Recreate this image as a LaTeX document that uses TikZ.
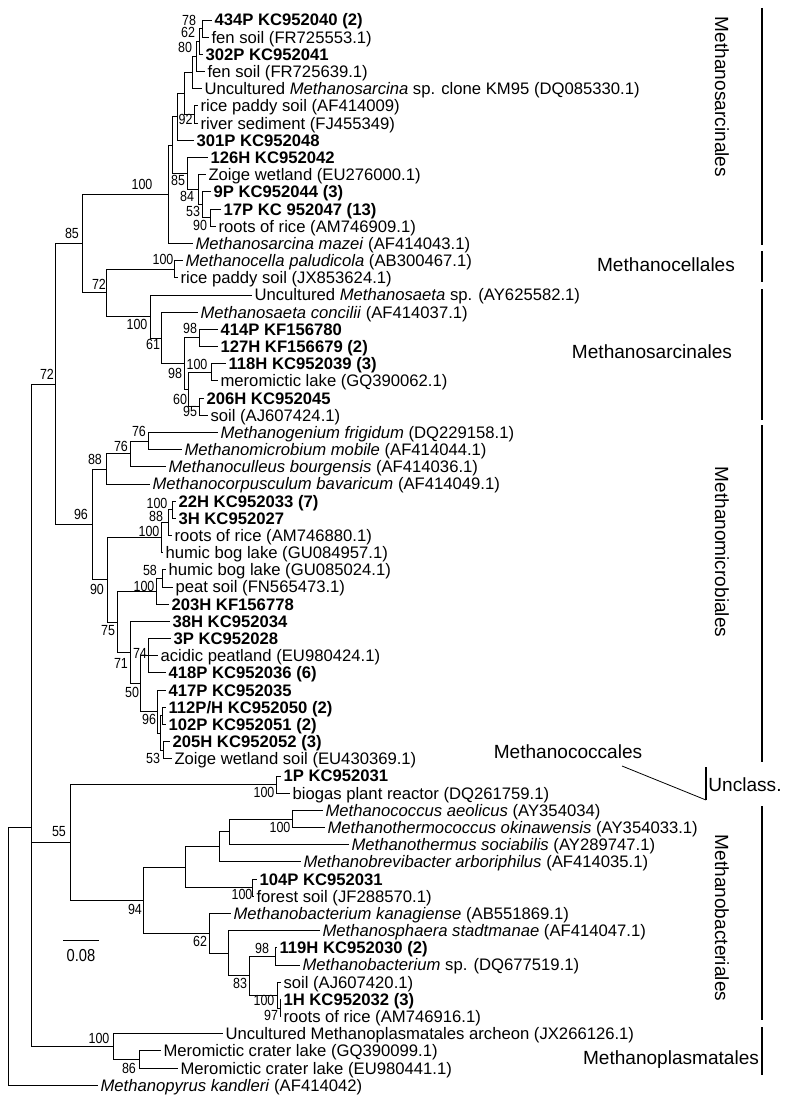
\documentclass[tikz,border=0pt]{standalone}
\usepackage{fontspec}
\setmainfont{Liberation Sans}
\newfontfamily\narfont[FakeStretch=0.85]{Liberation Sans}
\begin{document}
\begin{tikzpicture}[x=0.75pt,y=-0.75pt,line width=0.6pt,
  leaf/.style={anchor=base west,inner sep=0pt,xshift=1.6pt,yshift=-4.5pt,font=\fontsize{12.5}{14}\selectfont},
  boot/.style={anchor=center,inner sep=0pt,font=\narfont\fontsize{11}{12}\selectfont},
  clade/.style={inner sep=0pt,font=\fontsize{14.3}{16}\selectfont},
  bar/.style={line width=0.8pt}]
\useasboundingbox (0,0) rectangle (797,1102);
\newcommand\lv[4]{\coordinate (#1) at (#2,#3); \node[leaf] (#1t) at (#1) {#4};}
\newcommand\bs[4]{\node[boot] (#1) at (#2,#3) {#4};}
% ---------------- leaves
\lv{L1}{212}{20.0}{\bfseries 434P KC952040 (2)}
\lv{L2}{209}{37.2}{fen soil (FR725553.1)}
\lv{L3}{203}{54.4}{\bfseries 302P KC952041}
\lv{L4}{205}{71.5}{fen soil (FR725639.1)}
\lv{L5}{202}{88.7}{Uncultured \textit{Methanosarcina} sp. clone KM95 (DQ085330.1)}
\lv{L6}{198}{105.9}{rice paddy soil (AF414009)}
\lv{L7}{198}{123.1}{river sediment (FJ455349)}
\lv{L8}{194}{140.3}{\bfseries 301P KC952048}
\lv{L9}{208}{157.4}{\bfseries 126H KC952042}
\lv{L10}{206}{174.6}{Zoige wetland (EU276000.1)}
\lv{L11}{211}{191.8}{\bfseries 9P KC952044 (3)}
\lv{L12}{221}{209.0}{\bfseries 17P KC 952047 (13)}
\lv{L13}{216}{226.2}{roots of rice (AM746909.1)}
\lv{L14}{193}{243.3}{\textit{Methanosarcina mazei} (AF414043.1)}
\lv{L15}{183}{260.5}{\textit{Methanocella paludicola} (AB300467.1)}
\lv{L16}{178}{277.7}{rice paddy soil (JX853624.1)}
\lv{L17}{252}{294.9}{Uncultured \textit{Methanosaeta} sp. (AY625582.1)}
\lv{L18}{198}{312.1}{\textit{Methanosaeta concilii} (AF414037.1)}
\lv{L19}{218}{329.2}{\bfseries 414P KF156780}
\lv{L20}{218}{346.4}{\bfseries 127H KF156679 (2)}
\lv{L21}{226}{363.6}{\bfseries 118H KC952039 (3)}
\lv{L22}{218}{380.8}{meromictic lake (GQ390062.1)}
\lv{L23}{204}{398.0}{\bfseries 206H KC952045}
\lv{L24}{208}{415.1}{soil (AJ607424.1)}
\lv{L25}{218}{432.3}{\textit{Methanogenium frigidum} (DQ229158.1)}
\lv{L26}{182}{449.5}{\textit{Methanomicrobium mobile} (AF414044.1)}
\lv{L27}{166}{466.7}{\textit{Methanoculleus bourgensis} (AF414036.1)}
\lv{L28}{150}{483.9}{\textit{Methanocorpusculum bavaricum} (AF414049.1)}
\lv{L29}{176}{501.0}{\bfseries 22H KC952033 (7)}
\lv{L30}{176}{518.2}{\bfseries 3H KC952027}
\lv{L31}{172}{535.4}{roots of rice (AM746880.1)}
\lv{L32}{163}{552.6}{humic bog lake (GU084957.1)}
\lv{L33}{166}{569.8}{humic bog lake (GU085024.1)}
\lv{L34}{173}{586.9}{peat soil (FN565473.1)}
\lv{L35}{169}{604.1}{\bfseries 203H KF156778}
\lv{L36}{170}{621.3}{\bfseries 38H KC952034}
\lv{L37}{171}{638.5}{\bfseries 3P KC952028}
\lv{L38}{158}{655.7}{acidic peatland (EU980424.1)}
\lv{L39}{166}{672.8}{\bfseries 418P KC952036 (6)}
\lv{L40}{166}{690.0}{\bfseries 417P KC952035}
\lv{L41}{166}{707.2}{\bfseries 112P/H KC952050 (2)}
\lv{L42}{166}{724.4}{\bfseries 102P KC952051 (2)}
\lv{L43}{170}{741.6}{\bfseries 205H KC952052 (3)}
\lv{L44}{172}{758.7}{Zoige wetland soil (EU430369.1)}
\lv{L45}{281}{775.9}{\bfseries 1P KC952031}
\lv{L46}{290}{793.1}{biogas plant reactor (DQ261759.1)}
\lv{L47}{323}{810.3}{\textit{Methanococcus aeolicus} (AY354034)}
\lv{L48}{325}{827.5}{\textit{Methanothermococcus okinawensis} (AY354033.1)}
\lv{L49}{349}{844.6}{\textit{Methanothermus sociabilis} (AY289747.1)}
\lv{L50}{301}{861.8}{\textit{Methanobrevibacter arboriphilus} (AF414035.1)}
\lv{L51}{257}{879.0}{\bfseries 104P KC952031}
\lv{L52}{254}{896.2}{forest soil (JF288570.1)}
\lv{L53}{231}{913.4}{\textit{Methanobacterium kanagiense} (AB551869.1)}
\lv{L54}{320}{930.5}{\textit{Methanosphaera stadtmanae} (AF414047.1)}
\lv{L55}{277}{947.7}{\bfseries 119H KC952030 (2)}
\lv{L56}{300}{964.9}{\textit{Methanobacterium} sp. (DQ677519.1)}
\lv{L57}{281}{982.1}{soil (AJ607420.1)}
\lv{L58}{281}{999.3}{\bfseries 1H KC952032 (3)}
\lv{L59}{281}{1016.4}{roots of rice (AM746916.1)}
\lv{L60}{223}{1033.6}{Uncultured Methanoplasmatales archeon (JX266126.1)}
\lv{L61}{161}{1050.8}{Meromictic crater lake (GQ390099.1)}
\lv{L62}{178}{1068.0}{Meromictic crater lake (EU980441.1)}
\lv{L63}{98}{1085.2}{\textit{Methanopyrus kandleri} (AF414042)}
% ---------------- internal nodes
\coordinate (n78) at (202,28.6);
\coordinate (n62) at (199,41.5);
\coordinate (n80) at (196,56.5);
\coordinate (nKM) at (192,72.6);
\coordinate (n92) at (194,114.5);
\coordinate (nX) at (184,93.5);
\coordinate (nY) at (177,116.9);
\coordinate (n90) at (210,217.6);
\coordinate (n53) at (202,204.7);
\coordinate (n84) at (198,189.6);
\coordinate (n85) at (187,173.5);
\coordinate (nZ) at (172,145.2);
\coordinate (n100) at (168,194.2);
\coordinate (n100c) at (174,269.1);
\coordinate (n98a) at (199,337.8);
\coordinate (n100m) at (211,372.2);
\coordinate (n95) at (199,406.6);
\coordinate (n60) at (188,389.4);
\coordinate (n98b) at (184,363.6);
\coordinate (n61) at (161,337.9);
\coordinate (n100s) at (150,316.4);
\coordinate (n72b) at (106,292.8);
\coordinate (n85b) at (82,243.5);
\coordinate (n76b) at (148,440.9);
\coordinate (n76a) at (130,453.8);
\coordinate (n88) at (106,468.9);
\coordinate (n100t) at (172,509.6);
\coordinate (n88b) at (168,522.5);
\coordinate (n100h) at (161,537.6);
\coordinate (n58) at (162,578.4);
\coordinate (n100p) at (156,591.3);
\coordinate (n74) at (148,655.7);
\coordinate (n112) at (162,715.8);
\coordinate (n53b) at (163,750.2);
\coordinate (nQ) at (160,733.0);
\coordinate (n96b) at (157,711.5);
\coordinate (n50) at (140,683.6);
\coordinate (n71) at (130,652.5);
\coordinate (n75) at (117,621.9);
\coordinate (n90m) at (107,579.8);
\coordinate (n96) at (92,524.4);
\coordinate (n72r) at (55,384.0);
\coordinate (nbio) at (276,784.5);
\coordinate (nmc) at (292,818.9);
\coordinate (nC1) at (229,831.8);
\coordinate (nB1) at (219,846.8);
\coordinate (nfor) at (252,887.6);
\coordinate (nA1) at (185,867.2);
\coordinate (n98c) at (275,956.3);
\coordinate (n97) at (280,1007.9);
\coordinate (n100r) at (277,995.0);
\coordinate (n83) at (249,975.7);
\coordinate (nD) at (228,953.1);
\coordinate (n62b) at (209,933.3);
\coordinate (n94) at (143,900.3);
\coordinate (n55) at (70,842.4);
\coordinate (n86) at (139,1059.4);
\coordinate (npl) at (113,1046.5);
\coordinate (nIn) at (31,827.0);
\coordinate (root) at (8,956.1);
% ---------------- branches
\foreach \p/\c in {n78/L1,n78/L2,n62/n78,n62/L3,n80/n62,n80/L4,nKM/n80,nKM/L5,
  n92/L6,n92/L7,nX/nKM,nX/n92,nY/nX,nY/L8,n90/L12,n90/L13,n53/L11,n53/n90,
  n84/L10,n84/n53,n85/L9,n85/n84,nZ/nY,nZ/n85,n100/nZ,n100/L14,
  n100c/L15,n100c/L16,n98a/L19,n98a/L20,n100m/L21,n100m/L22,n95/L23,n95/L24,
  n60/n100m,n60/n95,n98b/n98a,n98b/n60,n61/L18,n61/n98b,n100s/L17,n100s/n61,
  n72b/n100c,n72b/n100s,n85b/n100,n85b/n72b,
  n76b/L25,n76b/L26,n76a/n76b,n76a/L27,n88/n76a,n88/L28,
  n100t/L29,n100t/L30,n88b/n100t,n88b/L31,n100h/n88b,n100h/L32,
  n58/L33,n58/L34,n100p/n58,n100p/L35,n74/L37,n74/L38,n74/L39,
  n112/L41,n112/L42,n53b/L43,n53b/L44,nQ/n112,nQ/n53b,n96b/L40,n96b/nQ,
  n50/n74,n50/n96b,n71/L36,n71/n50,n75/n100p,n75/n71,n90m/n100h,n90m/n75,
  n96/n88,n96/n90m,n72r/n85b,n72r/n96,
  nbio/L45,nbio/L46,nmc/L47,nmc/L48,nC1/nmc,nC1/L49,nB1/nC1,nB1/L50,
  nfor/L51,nfor/L52,nA1/nB1,nA1/nfor,n98c/L55,n98c/L56,n97/L58,n97/L59,
  n100r/L57,n100r/n97,n83/n98c,n83/n100r,nD/L54,nD/n83,n62b/L53,n62b/nD,
  n94/nA1,n94/n62b,n55/nbio,n55/n94,n86/L61,n86/L62,npl/L60,npl/n86,
  nIn/n72r,nIn/n55,nIn/npl,root/nIn,root/L63}
  {\draw (\p) |- (\c);}
% ---------------- bootstrap values
\bs{b1}{189}{20}{78}
\bs{b2}{188}{32.5}{62}
\bs{b3}{185}{47}{80}
\bs{b4}{185.5}{119}{92}
\bs{b5}{142}{184}{100}
\bs{b6}{178}{180}{85}
\bs{b7}{187}{196}{84}
\bs{b8}{193}{211}{53}
\bs{b9}{200}{225}{90}
\bs{b10}{72}{233}{85}
\bs{b11}{163}{259}{100}
\bs{b12}{99}{284}{72}
\bs{b13}{137}{324}{100}
\bs{b14}{153}{344}{61}
\bs{b15}{190}{328}{98}
\bs{b16}{197}{364}{100}
\bs{b17}{175}{373}{98}
\bs{b18}{180}{399}{60}
\bs{b19}{190}{411}{95}
\bs{b20}{47}{374}{72}
\bs{b21}{139}{431}{76}
\bs{b22}{121}{446}{76}
\bs{b23}{95}{459}{88}
\bs{b24}{81}{514}{96}
\bs{b25}{157}{503}{100}
\bs{b26}{156}{516.5}{88}
\bs{b27}{149}{531}{100}
\bs{b28}{150}{570}{58}
\bs{b29}{144}{586}{100}
\bs{b30}{97}{589}{90}
\bs{b31}{108}{631}{75}
\bs{b32}{140}{653}{74}
\bs{b33}{121}{663}{71}
\bs{b34}{132}{692}{50}
\bs{b35}{149}{719}{96}
\bs{b36}{153}{758}{53}
\bs{b37}{264}{792}{100}
\bs{b38}{59}{832}{55}
\bs{b39}{280}{827}{100}
\bs{b40}{242}{894}{100}
\bs{b41}{135}{909}{94}
\bs{b42}{200}{941}{62}
\bs{b43}{262}{948}{98}
\bs{b44}{240}{983}{83}
\bs{b45}{264}{1000}{100}
\bs{b46}{271}{1015}{97}
\bs{b47}{99}{1038}{100}
\bs{b48}{129}{1068}{86}
% ---------------- scale bar
\coordinate (sb1) at (63,940);
\coordinate (sb2) at (99,940);
\draw (sb1) -- (sb2);
\node[boot,font=\narfont\fontsize{13}{14}\selectfont] (sbl) at (81,956) {0.08};
% ---------------- clade labels
\coordinate (c1a) at (762,8);   \coordinate (c1b) at (762,245);
\draw[bar] (c1a) -- (c1b);
\node[clade,rotate=-90] (k1) at (722,97) {Methanosarcinales};
\coordinate (c2a) at (762,251); \coordinate (c2b) at (762,282);
\draw[bar] (c2a) -- (c2b);
\node[clade] (k2) at (666,265) {Methanocellales};
\coordinate (c3a) at (762,289); \coordinate (c3b) at (762,420);
\draw[bar] (c3a) -- (c3b);
\node[clade] (k3) at (652,352) {Methanosarcinales};
\coordinate (c4a) at (762,425); \coordinate (c4b) at (762,762);
\draw[bar] (c4a) -- (c4b);
\node[clade,rotate=-90] (k4) at (722,552) {Methanomicrobiales};
\node[clade] (k5) at (568,752) {Methanococcales};
\coordinate (c5a) at (622,766); \coordinate (c5b) at (706,800);
\draw (c5a) -- (c5b);
\coordinate (c6a) at (706,767); \coordinate (c6b) at (706,800);
\draw[bar] (c6a) -- (c6b);
\node[clade] (k6) at (745,785) {Unclass.};
\coordinate (c7a) at (762,806); \coordinate (c7b) at (762,1020);
\draw[bar] (c7a) -- (c7b);
\node[clade,rotate=-90] (k7) at (722,918) {Methanobacteriales};
\coordinate (c8a) at (762,1027); \coordinate (c8b) at (762,1075);
\draw[bar] (c8a) -- (c8b);
\node[clade] (k8) at (671,1060) {Methanoplasmatales};
\end{tikzpicture}
\end{document}
